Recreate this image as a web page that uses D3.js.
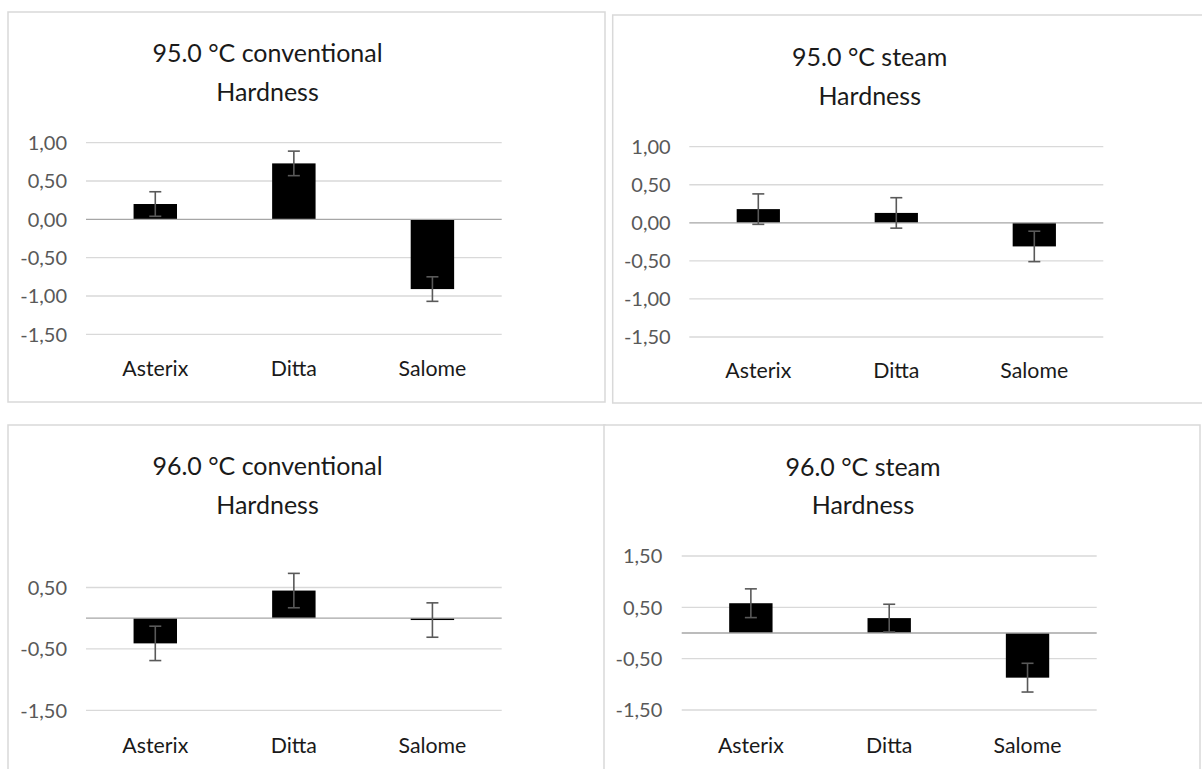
<!DOCTYPE html>
<html>
<head>
<meta charset="utf-8">
<script src="https://cdn.jsdelivr.net/npm/d3@7"></script>
<style>
  body { margin: 0; background: #fff; }
  svg { display: block; font-family: Lato, "Open Sans", sans-serif; }
  .frame { fill: #fff; stroke: #d9d9d9; stroke-width: 1.5; }
  .grid line { stroke: #d9d9d9; stroke-width: 1.3; }
  .zero { stroke: #a6a6a6; stroke-width: 1.3; }
  .tick-label { fill: #595959; font-size: 20px; }
  .cat-label { fill: #1a1a1a; font-size: 21.3px; }
  .title { fill: #1a1a1a; font-size: 25px; }
  .err { stroke: #595959; stroke-width: 1.6; fill: none; }
</style>
</head>
<body>
<div id="chart"></div>
<script>
// ---- data ----
const categories = ["Asterix", "Ditta", "Salome"];

const conv95 = [0.20, 0.73, -0.91];
const conv95Err = [0.16, 0.16, 0.16];
const steam95 = [0.18, 0.13, -0.31];
const steam95Err = [0.20, 0.20, 0.20];
const conv96 = [-0.41, 0.45, -0.03];
const conv96Err = [0.28, 0.28, 0.28];
const steam96 = [0.58, 0.29, -0.87];
const steam96Err = [0.28, 0.27, 0.28];

const ticks95 = [-1.5, -1, -0.5, 0, 0.5, 1];
const ticksConv96 = [-1.5, -0.5, 0.5];
const ticksSteam96 = [-1.5, -0.5, 0.5, 1.5];

const titles = [
  ["95.0 °C conventional", "Hardness"],
  ["95.0 °C steam", "Hardness"],
  ["96.0 °C conventional", "Hardness"],
  ["96.0 °C steam", "Hardness"]
];

// ---- layout for each panel (pixel boxes, not data) ----
const panels = [
  { values: conv95, errs: conv95Err, ticks: ticks95, domain: [-1.5, 1], title: titles[0],
    box: [8, 12, 597, 390], plot: [86, 501.7, 142.7, 334.3], titleX: 267.5, titleY: [53, 92], catY: 368, tickX: 67 },
  { values: steam95, errs: steam95Err, ticks: ticks95, domain: [-1.5, 1], title: titles[1],
    box: [612.7, 15, 600, 388], plot: [689.3, 1103.3, 146.7, 337], titleX: 869.7, titleY: [56.7, 95.7], catY: 370, tickX: 670.7 },
  { values: conv96, errs: conv96Err, ticks: ticksConv96, domain: [-1.5, 1], title: titles[2],
    box: [8, 425, 597, 360], plot: [86, 501.7, 556.8, 710.3], titleX: 267.5, titleY: [466, 505], catY: 745, tickX: 67 },
  { values: steam96, errs: steam96Err, ticks: ticksSteam96, domain: [-1.5, 1.5], title: titles[3],
    box: [604, 425, 596, 360], plot: [681.7, 1096.7, 556, 710], titleX: 863, titleY: [466.7, 505], catY: 745, tickX: 662.3 }
];

const width = 1202, height = 769;
const fmt = v => d3.format(".2f")(v).replace(".", ",").replace("−", "-");

const svg = d3.select("#chart").append("svg")
  .attr("width", width)
  .attr("height", height);

panels.forEach(p => {
  const g = svg.append("g");
  const [bx, by, bw, bh] = p.box;
  const [left, right, top, bottom] = p.plot;

  g.append("rect").attr("class", "frame")
    .attr("x", bx).attr("y", by).attr("width", bw).attr("height", bh);

  const x = d3.scaleBand().domain(categories).range([left, right]).padding(0);
  const y = d3.scaleLinear().domain(p.domain).range([bottom, top]);
  const barW = x.bandwidth() / 3.19;

  // gridlines
  g.append("g").attr("class", "grid")
    .selectAll("line")
    .data(p.ticks.filter(t => t !== 0))
    .join("line")
    .attr("x1", left).attr("x2", right)
    .attr("y1", d => y(d)).attr("y2", d => y(d));

  // tick labels
  g.selectAll(".tick-label")
    .data(p.ticks)
    .join("text")
    .attr("class", "tick-label")
    .attr("x", p.tickX)
    .attr("y", d => y(d))
    .attr("dy", "0.36em")
    .attr("text-anchor", "end")
    .text(d => fmt(d));

  // bars
  g.selectAll(".bar")
    .data(p.values)
    .join("rect")
    .attr("class", "bar")
    .attr("fill", "#000")
    .attr("x", (d, i) => x(categories[i]) + x.bandwidth() / 2 - barW / 2)
    .attr("width", barW)
    .attr("y", d => y(Math.max(0, d)))
    .attr("height", d => Math.abs(y(d) - y(0)));

  // zero axis line
  g.append("line").attr("class", "zero")
    .attr("x1", left).attr("x2", right)
    .attr("y1", y(0)).attr("y2", y(0));

  // error bars
  const errs = g.selectAll(".errbar")
    .data(p.values.map((v, i) => ({ v, e: p.errs[i], c: categories[i] })))
    .join("g")
    .attr("class", "err")
    .attr("transform", d => `translate(${x(d.c) + x.bandwidth() / 2},0)`);
  errs.append("line")
    .attr("y1", d => y(d.v + d.e)).attr("y2", d => y(d.v - d.e));
  errs.append("line")
    .attr("x1", -6).attr("x2", 6)
    .attr("y1", d => y(d.v + d.e)).attr("y2", d => y(d.v + d.e));
  errs.append("line")
    .attr("x1", -6).attr("x2", 6)
    .attr("y1", d => y(d.v - d.e)).attr("y2", d => y(d.v - d.e));

  // category labels
  g.selectAll(".cat-label")
    .data(categories)
    .join("text")
    .attr("class", "cat-label")
    .attr("x", d => x(d) + x.bandwidth() / 2)
    .attr("y", p.catY)
    .attr("dy", "0.36em")
    .attr("text-anchor", "middle")
    .text(d => d);

  // title
  g.selectAll(".title")
    .data(p.title)
    .join("text")
    .attr("class", "title")
    .attr("x", p.titleX)
    .attr("y", (d, i) => p.titleY[i])
    .attr("dy", "0.36em")
    .attr("text-anchor", "middle")
    .text(d => d);
});
</script>
</body>
</html>
